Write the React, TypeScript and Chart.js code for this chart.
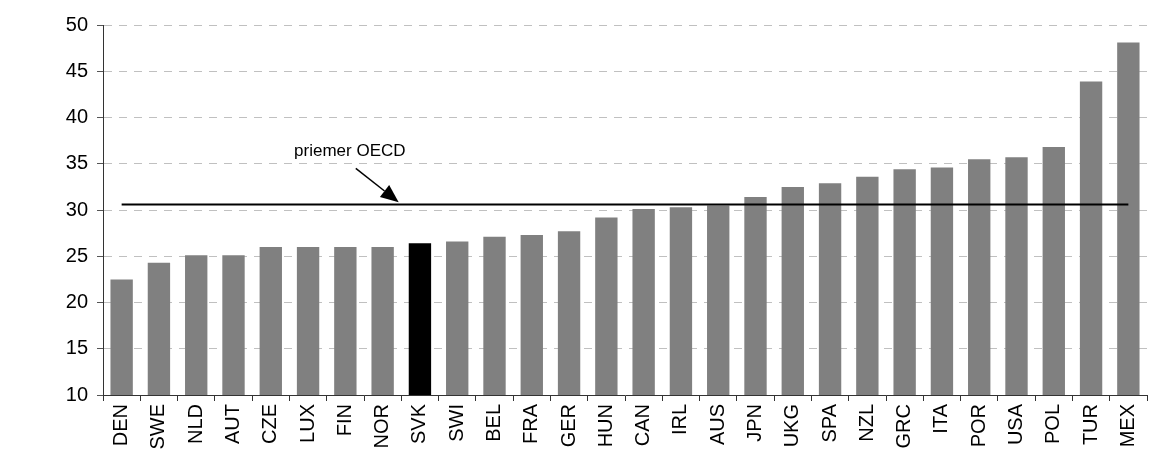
import React, { useEffect, useRef } from "react";
import { Chart, registerables } from "chart.js";

Chart.register(...registerables);

const categories = ["DEN","SWE","NLD","AUT","CZE","LUX","FIN","NOR","SVK","SWI","BEL","FRA","GER","HUN","CAN","IRL","AUS","JPN","UKG","SPA","NZL","GRC","ITA","POR","USA","POL","TUR","MEX"];
const values = [22.5,24.3,25.1,25.1,26.0,26.0,26.0,26.0,26.4,26.6,27.1,27.3,27.7,29.2,30.1,30.3,30.5,31.4,32.5,32.9,33.6,34.4,34.6,35.5,35.7,36.8,43.9,48.1];
const oecdAverage = [30.6,30.6,30.6,30.6,30.6,30.6,30.6,30.6,30.6,30.6,30.6,30.6,30.6,30.6,30.6,30.6,30.6,30.6,30.6,30.6,30.6,30.6,30.6,30.6,30.6,30.6,30.6,30.6];
const highlight = "SVK";
const yTicks = { min: 10, max: 50, step: 5 };
const annotationText = "priemer OECD";
// annotation anchors in data units (category index, value)
const annotationLabelPos = [6.12, 36.3];
const annotationArrowFrom = [6.28, 34.5];
const annotationArrowTo = [7.43, 30.85];

const FONT = "'Liberation Sans', Arial, sans-serif";

const annotationPlugin = {
  id: "oecdAnnotation",
  afterDatasetsDraw(chart: any) {
    const { ctx, scales } = chart;
    const xs = scales.x;
    const ys = scales.y;
    const px = (i: number) => {
      const a = xs.getPixelForValue(Math.floor(i));
      const b = xs.getPixelForValue(Math.floor(i) + 1);
      return a + (b - a) * (i - Math.floor(i));
    };
    ctx.save();
    ctx.fillStyle = "#000";
    ctx.font = `17px ${FONT}`;
    ctx.textAlign = "center";
    ctx.textBaseline = "middle";
    ctx.fillText(annotationText, px(annotationLabelPos[0]), ys.getPixelForValue(annotationLabelPos[1]));
    const x1 = px(annotationArrowFrom[0]);
    const y1 = ys.getPixelForValue(annotationArrowFrom[1]);
    const x2 = px(annotationArrowTo[0]);
    const y2 = ys.getPixelForValue(annotationArrowTo[1]);
    const ang = Math.atan2(y2 - y1, x2 - x1);
    const headLen = 18;
    const headHalf = 7.5;
    const bx = x2 - headLen * Math.cos(ang);
    const by = y2 - headLen * Math.sin(ang);
    ctx.strokeStyle = "#000";
    ctx.lineWidth = 1.5;
    ctx.beginPath();
    ctx.moveTo(x1, y1);
    ctx.lineTo(bx, by);
    ctx.stroke();
    ctx.beginPath();
    ctx.moveTo(x2, y2);
    ctx.lineTo(bx + headHalf * Math.sin(ang), by - headHalf * Math.cos(ang));
    ctx.lineTo(bx - headHalf * Math.sin(ang), by + headHalf * Math.cos(ang));
    ctx.closePath();
    ctx.fill();
    ctx.restore();
  },
};

export default function App() {
  const ref = useRef<HTMLCanvasElement | null>(null);
  useEffect(() => {
    if (!ref.current) return;
    const chart = new Chart(ref.current, {
      type: "bar",
      data: {
        labels: categories,
        datasets: [
          {
            type: "line",
            label: "priemer OECD",
            data: oecdAverage,
            borderColor: "#000",
            borderWidth: 2,
            pointRadius: 0,
            fill: false,
            order: 0,
          } as any,
          {
            type: "bar",
            label: "values",
            data: values,
            backgroundColor: categories.map((c) => (c === highlight ? "#000000" : "#808080")),
            borderWidth: 0,
            barPercentage: 0.6,
            categoryPercentage: 1,
            order: 1,
          },
        ],
      },
      options: {
        responsive: false,
        animation: false,
        devicePixelRatio: 1,
        layout: { padding: { top: 25, right: 27, left: 0, bottom: 0 } },
        plugins: { legend: { display: false }, tooltip: { enabled: false } },
        scales: {
          x: {
            offset: true,
            grid: {
              display: true,
              drawOnChartArea: false,
              drawTicks: true,
              tickLength: 6,
              tickColor: "#333",
              color: "#333",
            },
            border: { display: true, color: "#333", width: 1 },
            ticks: {
              autoSkip: false,
              maxRotation: 90,
              minRotation: 90,
              padding: 3,
              color: "#000",
              font: { family: FONT, size: 20 },
            },
            afterFit: (scale: any) => {
              scale.height = 70;
            },
          },
          y: {
            min: yTicks.min,
            max: yTicks.max,
            ticks: {
              stepSize: yTicks.step,
              padding: 9,
              color: "#000",
              font: { family: FONT, size: 20 },
            },
            grid: {
              color: "#c0c0c0",
              lineWidth: 1,
              tickLength: 6,
              tickColor: "#555",
              tickBorderDash: [],
            },
            border: { display: true, color: "#333", width: 1, dash: [8, 7] },
            afterFit: (scale: any) => {
              scale.width = 103;
            },
          },
        },
      },
      plugins: [annotationPlugin],
    });
    return () => chart.destroy();
  }, []);
  return (
    <div style={{ position: "absolute", left: 0, top: 0, width: 1174, height: 465, background: "#fff" }}>
      <canvas ref={ref} width={1174} height={465} style={{ width: 1174, height: 465, display: "block" }} />
    </div>
  );
}
